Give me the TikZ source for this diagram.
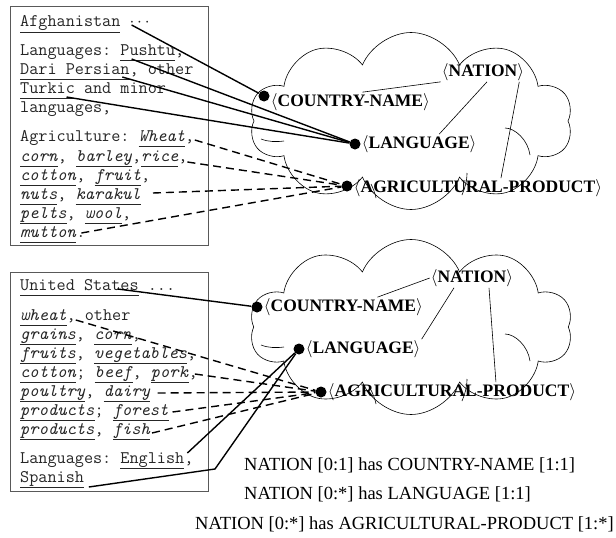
\documentclass[tikz,border=0pt]{standalone}
\usepackage{fontspec}
\setmainfont{Liberation Serif}
\usepackage{tikz}
\usetikzlibrary{positioning,shapes.symbols}

\newcommand{\uw}[1]{\underline{#1\vphantom{g}}}
\newcommand{\chw}{9.3pt}
\newcommand{\tag}[1]{$\langle$#1$\rangle$}

\begin{document}
\begin{tikzpicture}[x=1pt,y=-1pt,
		ln/.style={anchor=base west, inner sep=0pt, text=black!85,
			font=\ttfamily\fontsize{17.7}{19}\selectfont\frenchspacing},
		srcbox/.style={draw=black!65, line width=0.8pt, anchor=north west, inner sep=0pt},
		puff/.style={cloud, cloud puffs=10, cloud puff arc=135, draw, line width=0.6pt, inner sep=0pt},
		fold/.style={line width=0.6pt},
		dot/.style={circle, fill, inner sep=0pt, minimum size=11pt},
		lbl/.style={inner sep=1pt, font=\bfseries\fontsize{17.5}{20}\selectfont},
		note/.style={inner sep=0pt, font=\fontsize{18.5}{22}\selectfont},
		link/.style={line width=1.4pt},
		crop/.style={line width=1.4pt, dash pattern=on 8pt off 5pt},
		rel/.style={line width=0.6pt}]
	\useasboundingbox (0,0) rectangle (616,538);
	
	% ontology clouds, with the inner folds of the puffs
	\node[puff, minimum width=323pt, minimum height=177pt] (cloud1) at (411,121) {};
	\node[puff, minimum width=323pt, minimum height=175pt] (cloud2) at (411,327) {};
	\foreach \c in {cloud1,cloud2}{
		\begin{scope}[shift={(\c.center)}]
			\draw[fold] (-150,18) .. controls (-142,21) and (-135,21) .. (-127,20);
			\draw[fold] (94,7) .. controls (104,7) and (117,19) .. (119,34);
			\draw[fold] (56,52) .. controls (56,60) and (54,67) .. (51,74);
			\draw[fold] (-40,63) .. controls (-38,67) and (-36,72) .. (-35,77);
		\end{scope}
	}
	
	\node[lbl] (nat1) at (483,72) {\tag{NATION}};
	\node[dot] (cn1) at (264,96) {};
	\node[lbl, right=0pt of cn1, yshift=-6pt] (cn1t) {\tag{COUNTRY-NAME}};
	\node[dot] (lang1) at (355,144) {};
	\node[lbl, right=0pt of lang1] (lang1t) {\tag{LANGUAGE}};
	\node[dot] (agri1) at (347,186) {};
	\node[lbl, right=0pt of agri1, yshift=-2pt] (agri1t) {\tag{AGRICULTURAL-PRODUCT}};
	
	\node[lbl] (nat2) at (472,278) {\tag{NATION}};
	\node[dot] (cn2) at (257,307) {};
	\node[lbl, right=0pt of cn2] (cn2t) {\tag{COUNTRY-NAME}};
	\node[dot] (lang2) at (299,349) {};
	\node[lbl, right=0pt of lang2] (lang2t) {\tag{LANGUAGE}};
	\node[dot] (agri2) at (321,392) {};
	\node[lbl, right=0pt of agri2] (agri2t) {\tag{AGRICULTURAL-PRODUCT}};
	
	\draw[rel] (nat1.south west) -- ([xshift=12pt]cn1t.north);
	\draw[rel] ([xshift=4pt]nat1.south) -- ([xshift=20pt]lang1t.north);
	\draw[rel] ([xshift=-6pt]nat1.south east) -- ([xshift=23pt]agri1t.north);
	\draw[rel] (nat2.west) -- ([xshift=34pt]cn2t.north);
	\draw[rel] ([xshift=-18pt]nat2.south) -- (lang2t.north east);
	\draw[rel] ([xshift=17pt]nat2.south) -- ([xshift=44pt]agri2t.north);
	
	% Afghanistan record
	\node[srcbox, minimum width=198pt, minimum height=239pt] (afgbox) at (10,6) {};
	\node[ln] (a1) at (20,27) {\uw{Afghanistan} $\cdots$};
	\node[ln] (a2) at (20,55) {Languages: \uw{Pushtu},};
	\node[ln] (a3) at (20,74) {\uw{Dari Persian}, other};
	\node[ln] (a4) at (20,93) {\uw{Turkic} and minor};
	\node[ln] (a5) at (20,112) {languages,};
	\node[ln] (a6) at (20,141) {Agriculture: \uw{\textit{Wheat}},};
	\node[ln] (a7) at (20,161) {\uw{\textit{corn}}, \uw{\textit{barley}},\uw{\textit{rice}},};
	\node[ln] (a8) at (20,180) {\uw{\textit{cotton}}, \uw{\textit{fruit}},};
	\node[ln] (a9) at (20,199) {\uw{\textit{nuts}}, \uw{\textit{karakul}}};
	\node[ln] (a10) at (20,218) {\uw{\textit{pelts}}, \uw{\textit{wool}},};
	\node[ln] (a11) at (20,237) {\uw{\textit{mutton}}.};
	
	\coordinate (afg) at ([shift={(12*\chw,2pt)}]a1.base west);
	\coordinate (push) at ([shift={(12*\chw,-4pt)}]a2.base west);
	\coordinate (dari) at ([shift={(11*\chw,-3pt)}]a3.base west);
	\coordinate (turk) at ([shift={(5*\chw,-4pt)}]a4.base west);
	\coordinate (wheat) at ([shift={(18.8*\chw,1pt)}]a6.base west);
	\coordinate (rice) at ([shift={(18*\chw,-1pt)}]a7.base west);
	\coordinate (kara) at ([shift={(14.3*\chw,6pt)}]a9.base west);
	\coordinate (mutt) at ([shift={(6.6*\chw,4pt)}]a11.base west);
	
	\draw[link] (afg) -- (cn1);
	\foreach \s in {push,dari,turk}
		\draw[link] (\s) -- (lang1);
	\foreach \s in {wheat,rice,kara,mutt}
		\draw[crop] (\s) -- (agri1);
	
	% United States record
	\node[srcbox, minimum width=198pt, minimum height=219pt] (usbox) at (10,272) {};
	\node[ln] (b1) at (20,290) {\uw{United States} ...};
	\node[ln] (b2) at (20,320) {\uw{\textit{wheat}}, other};
	\node[ln] (b3) at (20,339) {\uw{\textit{grains}}, \uw{\textit{corn}},};
	\node[ln] (b4) at (20,358) {\uw{\textit{fruits}}, \uw{\textit{vegetables}},};
	\node[ln] (b5) at (20,377) {\uw{\textit{cotton}}; \uw{\textit{beef}}, \uw{\textit{pork}},};
	\node[ln] (b6) at (20,396) {\uw{\textit{poultry}}, \uw{\textit{dairy}}};
	\node[ln] (b7) at (20,415) {\uw{\textit{products}}; \uw{\textit{forest}}};
	\node[ln] (b8) at (20,434) {\uw{\textit{products}}, \uw{\textit{fish}}};
	\node[ln] (b9) at (20,463) {Languages: \uw{English},};
	\node[ln] (b10) at (20,482) {\uw{Spanish}};
	
	\coordinate (us) at ([shift={(10.5*\chw,1pt)}]b1.base west);
	\coordinate (wheat2) at ([shift={(6*\chw,0pt)}]b2.base west);
	\coordinate (pork) at ([shift={(18.8*\chw,3pt)}]b5.base west);
	\coordinate (dairy) at ([shift={(14.8*\chw,3pt)}]b6.base west);
	\coordinate (forest) at ([shift={(16.4*\chw,3pt)}]b7.base west);
	\coordinate (fish) at ([shift={(14.2*\chw,1pt)}]b8.base west);
	\coordinate (eng) at ([shift={(18*\chw,10pt)}]b9.base west);
	\coordinate (span) at ([shift={(7.4*\chw,-5pt)}]b10.base west);
	\coordinate (bend) at (215,469);
	
	\draw[link] (us) -- (cn2);
	\foreach \s in {wheat2,pork,dairy,forest,fish}
		\draw[crop] (\s) -- (agri2);
	\draw[link] (eng) -- (lang2);
	\draw[link] (span) -- (bend) -- (lang2);
	
	% cardinalities
	\node[note, anchor=west] (r1) at (244,465) {NATION [0:1] has COUNTRY-NAME [1:1]};
	\node[note, anchor=west] (r2) at (244,494) {NATION [0:*] has LANGUAGE [1:1]};
	\node[note, anchor=east] (r3) at (614,524) {NATION [0:*] has AGRICULTURAL-PRODUCT [1:*]};
\end{tikzpicture}
\end{document}
